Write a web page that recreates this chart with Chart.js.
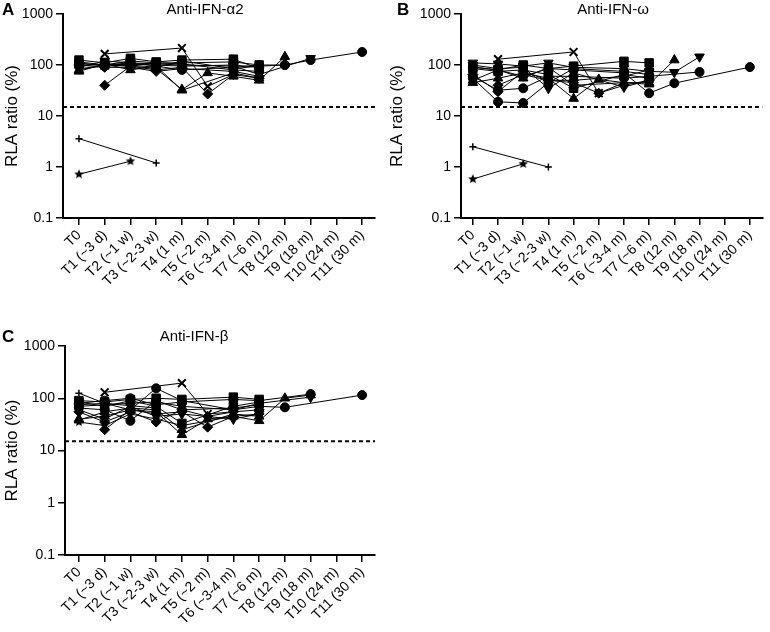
<!DOCTYPE html>
<html>
<head>
<meta charset="utf-8">
<script src="https://cdn.jsdelivr.net/npm/chart.js@4.4.0/dist/chart.umd.min.js"></script>
<style>
body { margin: 0; background: #fff; font-family: "Liberation Sans", Arial, sans-serif; }
#page { position: relative; width: 770px; height: 632px; overflow: hidden; }
.panel { position: absolute; }
.letter { position: absolute; font-weight: bold; font-size: 17px; line-height: 1; }
.ttl { position: absolute; font-size: 15px; line-height: 1; transform: translateX(-50%); white-space: nowrap; }
</style>
</head>
<body>
<div id="page">
  <div class="panel" style="left:0;top:0;width:385px;height:320px"><canvas id="chartA"></canvas></div>
  <div class="panel" style="left:385px;top:0;width:385px;height:320px"><canvas id="chartB"></canvas></div>
  <div class="panel" style="left:0;top:320px;width:385px;height:312px"><canvas id="chartC"></canvas></div>
  <div class="letter" style="left:2px;top:1px">A</div>
  <div class="ttl" style="left:205px;top:1px">Anti-IFN-α2</div>
  <div class="letter" style="left:397px;top:1px">B</div>
  <div class="ttl" style="left:613px;top:1px">Anti-IFN-ω</div>
  <div class="letter" style="left:2px;top:328px">C</div>
  <div class="ttl" style="left:194px;top:328px">Anti-IFN-β</div>
</div>
<script>
// time points (x categories) and y ticks
const timepoints = ['T0', 'T1 (~3 d)', 'T2 (~1 w)', 'T3 (~2-3 w)', 'T4 (1 m)', 'T5 (~2 m)',
    'T6 (~3-4 m)', 'T7 (~6 m)', 'T8 (12 m)', 'T9 (18 m)', 'T10 (24 m)', 'T11 (30 m)'];
const yTicks = [0.1, 1, 10, 100, 1000];
const cutoff = 15;

// one marker per patient, same order as the rows below
const markers = ['circle', 'square', 'triangle', 'triangleDown', 'diamond', 'x', 'circle',
    'square', 'triangle', 'triangleDown', 'diamond', 'plus', 'star', 'circle'];

// RLA ratio (%) per patient, T0..T11 (null = not sampled)
const alpha2 = [
    [95, 105, 100, 90, 120, null, 85, 95, 100, 125, null, 180],
    [125, 110, 135, 115, 125, null, 130, 85],
    [80, 100, 95, 85, 33, 70, 60, 50, 145],
    [90, 120, 110, 105, 100, null, 95, 65, null, 135],
    [null, 40, 95, 80, 90, 27, 65, 55],
    [null, 165, null, null, 215, 38, 65],
    [110, 95, 105, 100, 95, null, 100, 90],
    [105, 100, 120, 110, 110, null, 115, 100],
    [75, 105, 80, 95, 32, null, 70, 55],
    [85, 95, 100, 110, 105, null, 80, 75],
    [100, 90, 90, 75, 85, null, 75, 60],
    [3.6, null, null, 1.2],
    [0.72, null, 1.3],
    [115, 100, 110, 95, 80, null, 90, 100, 100]
];
const omega = [
    [90, 80, 60, 85, 80, null, 70, 28, 44, null, null, 91],
    [92, 80, 100, 85, 95, null, 118, 110],
    [45, 55, 70, 55, 22, 52, 45, 42, 125],
    [110, 105, 95, 110, 90, null, 85, 75, 72, 145],
    [null, 40, 65, 50, 45, 28, 40, 50],
    [null, 130, null, null, 180, 28, 45],
    [60, 32, 35, 60, 60, null, 55, 60, null, 73],
    [85, 75, 80, 65, 35, null, 65, 55],
    [50, 80, 55, 90, 40, null, 45, 45],
    [100, 85, 90, 35, 70, null, 37, 50],
    [65, 30, 75, 50, 50, null, 60, 80],
    [2.5, null, null, 1.0],
    [0.58, null, 1.15],
    [55, 19, 18, 45, 85, null, 75, 65]
];
const beta = [
    [75, 80, 60, 155, 90, null, 60, 70, 67, null, null, 115],
    [90, 85, 95, 100, 95, null, 105, 95],
    [40, 45, 60, 55, 20, 40, 45, 37, 100, 115],
    [70, 75, 80, 85, 70, null, 60, 80, null, 105],
    [null, 25, 60, 50, 55, 28, 45, 50],
    [null, 130, null, null, 195, 50, 55],
    [65, 60, 37, 90, 60, null, 65, 75],
    [85, 70, 90, 70, 33, null, 70, 85],
    [38, 55, 65, 60, 25, null, 50, 45],
    [60, 40, 70, 45, 50, null, 40, 50],
    [55, 35, 55, 35, 60, 45, 55, 60],
    [125, 80, null, 65],
    [35, 30, 50, 40, 30, null, 45],
    [80, 90, 100, 75, 85, null, 95, 90, null, 120]
];

const family = 'Arial, Liberation Sans, sans-serif';
Chart.defaults.font.family = family;
Chart.defaults.color = '#000';

function starImage(r) {
    const c = document.createElement('canvas');
    const s = Math.ceil(r * 2) + 2;
    c.width = s; c.height = s;
    const g = c.getContext('2d');
    g.beginPath();
    for (let i = 0; i < 10; i++) {
        const rad = i % 2 ? r * 0.45 : r;
        const a = -Math.PI / 2 + i * Math.PI / 5;
        g.lineTo(s / 2 + rad * Math.cos(a), s / 2 + rad * Math.sin(a));
    }
    g.closePath();
    g.fillStyle = '#000';
    g.fill();
    return c;
}

const markerStyle = {
    circle: { pointStyle: 'circle', pointRadius: 4.5 },
    square: { pointStyle: 'rect', pointRadius: 6 },
    triangle: { pointStyle: 'triangle', pointRadius: 5.5 },
    triangleDown: { pointStyle: 'triangle', pointRadius: 5.5, pointRotation: 180 },
    diamond: { pointStyle: 'rectRot', pointRadius: 5 },
    x: { pointStyle: 'crossRot', pointRadius: 5.5, pointBorderWidth: 2 },
    plus: { pointStyle: 'cross', pointRadius: 3.5, pointBorderWidth: 1.5 },
    star: { pointStyle: starImage(5), pointRadius: 5 }
};

const xMax = 11.5;

function makeChart(id, rows, g) {
    const datasets = rows.map((vals, i) => Object.assign({
        data: vals.map((v, t) => v == null ? null : { x: t, y: v }).filter(p => p),
        borderColor: '#000',
        borderWidth: 1,
        backgroundColor: '#000',
        pointBackgroundColor: '#000',
        pointBorderColor: '#000',
        pointBorderWidth: 1
    }, markerStyle[markers[i]]));

    // dotted positivity threshold
    datasets.unshift({
        data: [{ x: g.xMin, y: cutoff }, { x: xMax, y: cutoff }],
        borderColor: '#000',
        borderWidth: 2,
        borderDash: [4, 3],
        pointRadius: 0
    });

    const axisLine = { color: '#000', width: 2 };
    const tickMarks = { drawOnChartArea: false, drawTicks: true, tickLength: 7, color: '#000', lineWidth: 1.5 };

    new Chart(document.getElementById(id), {
        type: 'line',
        data: { datasets: datasets },
        options: {
            responsive: true,
            maintainAspectRatio: false,
            animation: false,
            layout: { padding: { top: g.top, right: g.right, left: 0, bottom: 0 } },
            plugins: { legend: { display: false }, tooltip: { enabled: false } },
            scales: {
                x: {
                    type: 'linear',
                    min: g.xMin,
                    max: xMax,
                    afterBuildTicks: s => { s.ticks = timepoints.map((_, i) => ({ value: i })); },
                    afterFit: s => { s.height = g.xAxisH; },
                    ticks: {
                        callback: v => timepoints[v],
                        autoSkip: false,
                        minRotation: 45,
                        maxRotation: 45,
                        padding: 2,
                        font: { family: family, size: 14 }
                    },
                    grid: tickMarks,
                    border: axisLine
                },
                y: {
                    type: 'logarithmic',
                    min: 0.1,
                    max: 1000,
                    afterBuildTicks: s => { s.ticks = yTicks.map(v => ({ value: v })); },
                    afterFit: s => { s.width = g.axisW; },
                    ticks: { callback: v => String(v), padding: 3, font: { family: family, size: 14 } },
                    grid: tickMarks,
                    border: axisLine,
                    title: { display: true, text: 'RLA ratio (%)', font: { family: family, size: 17 }, padding: { top: 2, bottom: 0 } }
                }
            }
        }
    });
}

makeChart('chartA', alpha2, { axisW: 63, top: 14, right: 10, xAxisH: 102, xMin: -0.62 });
makeChart('chartB', omega, { axisW: 76, top: 14, right: 0, xAxisH: 102, xMin: -0.47 });
makeChart('chartC', beta, { axisW: 65, top: 26, right: 10, xAxisH: 77, xMin: -0.54 });
</script>
</body>
</html>
